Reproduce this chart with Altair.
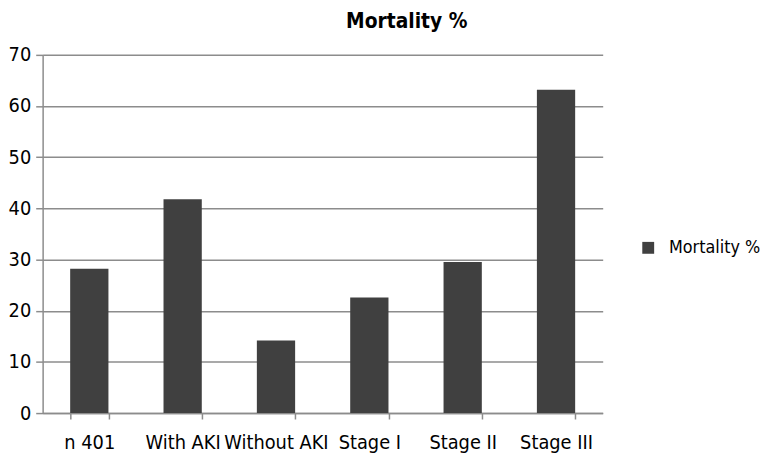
import altair as alt
import pandas as pd

categories = ["n 401", "With AKI", "Without AKI", "Stage I", "Stage II", "Stage III"]
values = [28.2, 41.8, 14.2, 22.6, 29.5, 63.2]
series = ["Mortality %"] * len(categories)
y_ticks = [0, 10, 20, 30, 40, 50, 60, 70]

df = pd.DataFrame({"category": categories, "value": values, "series": series})

FONT = "Liberation Sans Narrow, Arial Narrow, DejaVu Sans Condensed, sans-serif"
GRID = "#8c8c8c"
BAR = "#404040"

chart = alt.Chart(df).mark_bar(color=BAR).encode(
    x=alt.X(
        "category:N",
        sort=None,
        scale=alt.Scale(paddingInner=0.59, paddingOuter=0.295),
        axis=alt.Axis(
            title=None,
            labelAngle=0,
            labelFont=FONT,
            labelFontSize=20,
            labelColor="#000000",
            labelPadding=14,
            tickBand="extent",
            tickSize=6,
            tickColor=GRID,
            tickWidth=1.5,
            domainColor=GRID,
            domainWidth=1.5,
            grid=False,
        ),
    ),
    y=alt.Y(
        "value:Q",
        scale=alt.Scale(domain=[0, 70], nice=False),
        axis=alt.Axis(
            title=None,
            values=y_ticks,
            labelFont=FONT,
            labelFontSize=20,
            labelColor="#000000",
            labelPadding=5,
            tickSize=7,
            tickColor=GRID,
            tickWidth=1.5,
            domainColor=GRID,
            domainWidth=1.5,
            grid=True,
            gridColor=GRID,
            gridWidth=1.5,
        ),
    ),
    color=alt.Color(
        "series:N",
        scale=alt.Scale(range=[BAR]),
        legend=alt.Legend(
            title=None,
            orient="none",
            legendX=603,
            legendY=186,
            padding=0,
            symbolType="square",
            symbolSize=144,
            symbolStrokeWidth=0,
            labelFont=FONT,
            labelFontSize=18,
            labelColor="#000000",
            labelOffset=12,
        ),
    ),
).properties(
    width=566,
    height=362,
    title=alt.TitleParams(
        text="Mortality %",
        font=FONT,
        fontSize=21,
        fontWeight="bold",
        color="#000000",
        anchor="middle",
        frame="group",
        dx=85,
        offset=13,
    ),
    autosize=alt.AutoSizeParams(type="none"),
    padding={"left": 35, "top": 45, "right": 162, "bottom": 40},
    background="#ffffff",
).configure_view(
    strokeWidth=0
)

chart.save("out.html", embed_options={"renderer": "svg", "actions": False})
